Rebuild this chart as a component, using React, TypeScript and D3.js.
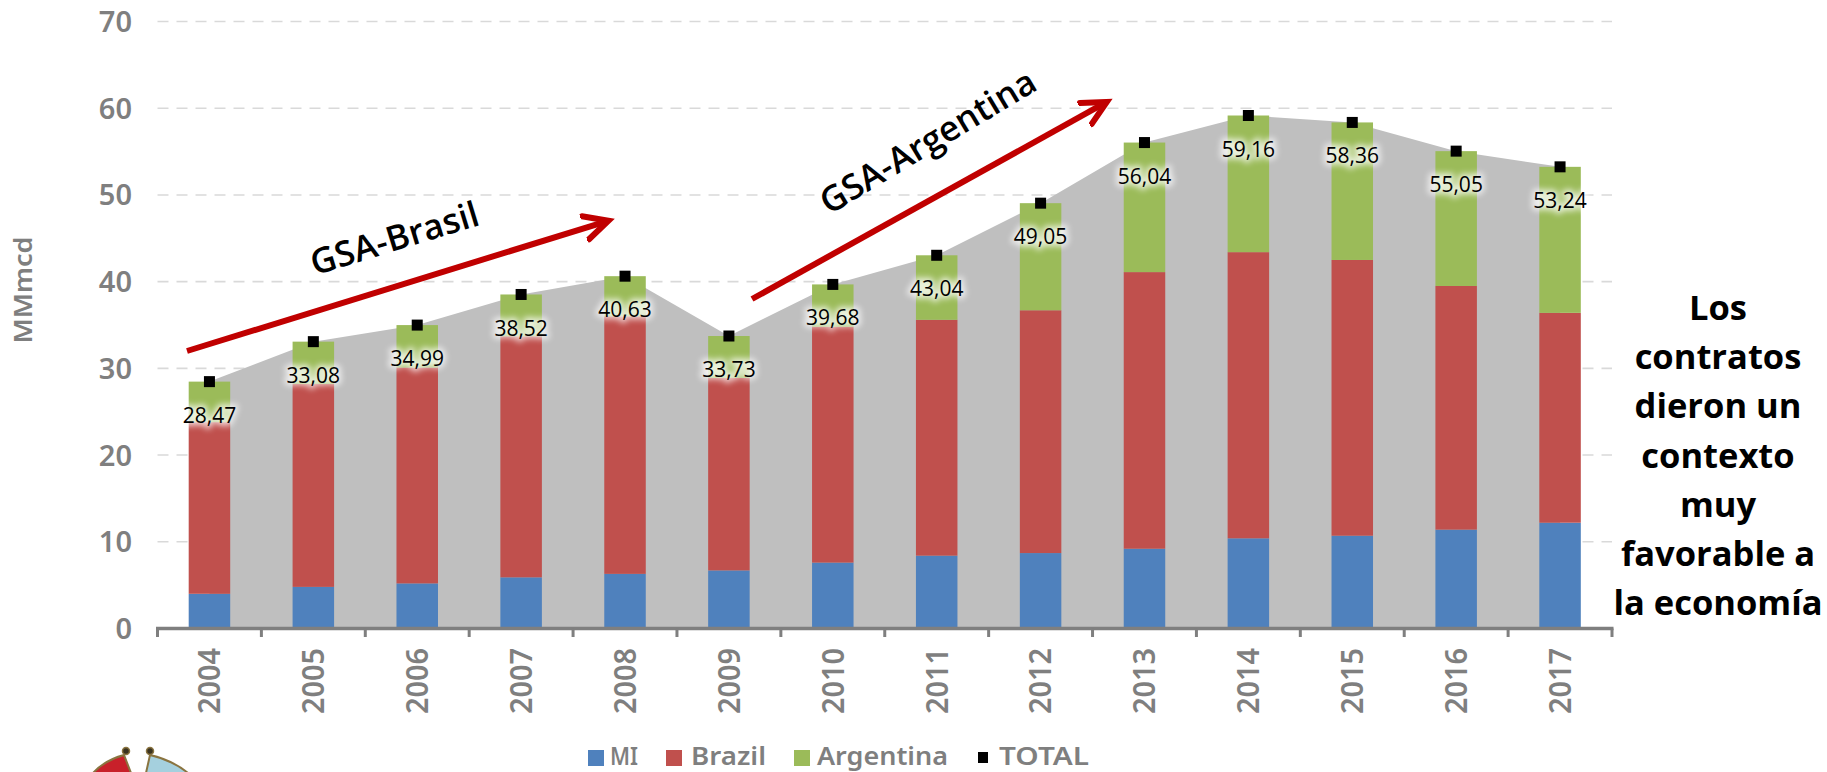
import React from "react";
import * as d3 from "d3";

const years = ["2004","2005","2006","2007","2008","2009","2010","2011","2012","2013","2014","2015","2016","2017"];
const mi = [4.0,4.8,5.2,5.9,6.3,6.7,7.6,8.4,8.7,9.2,10.4,10.7,11.4,12.2];
const brazil = [19.8,23.4,24.9,27.8,29.7,22.2,27.2,27.2,28.0,31.9,33.0,31.8,28.1,24.2];
const total = [28.47,33.08,34.99,38.52,40.63,33.73,39.68,43.04,49.05,56.04,59.16,58.36,55.05,53.24];
const yTicks = [0,10,20,30,40,50,60,70];
const legendItems = ["MI","Brazil","Argentina","TOTAL"];
const sideText = ["Los","contratos","dieron un","contexto","muy","favorable a","la economía"];

const BLUE = "#4F81BD", RED = "#C0504D", GREEN = "#9BBB59", GRAY = "#BFBFBF", AX = "#7F7F7F", ARROW = "#C00000";
const FONT = "'Noto Sans', sans-serif";
const LABEL = "'Open Sans', sans-serif";

export default function App() {
  const x = d3.scaleBand().domain(years).range([157.5, 1612]).paddingInner(0).paddingOuter(0);
  const y = d3.scaleLinear().domain([0, 70]).range([628.5, 21.5]);
  const cx = (d: string) => (x(d) as number) + x.bandwidth() / 2;
  const barW = 41.5;
  const area = d3.area<number>().x((_, i) => cx(years[i])).y0(y(0)).y1((d) => y(d));
  const stacks = years.map((_, i) => {
    const a = mi[i], b = a + brazil[i];
    return [
      { y0: 0, y1: a, c: BLUE },
      { y0: a, y1: b, c: RED },
      { y0: b, y1: total[i], c: GREEN },
    ];
  });
  const legendRectX = [588, 666, 794, 978];
  const legendTextX = [610, 691, 817, 999];
  const legendTextW = [28, 75, 131, 90];
  return (
    <svg width={1827} height={772} style={{ position: "absolute", left: 0, top: 0, background: "#fff" }}>
      <defs>
        <filter id="glow" x="-30%" y="-80%" width="160%" height="260%">
          <feGaussianBlur stdDeviation="3.2" />
        </filter>
        <marker id="head" markerUnits="userSpaceOnUse" markerWidth="40" markerHeight="36" refX="24" refY="18" orient="auto">
          <path d="M2,6 L26,18 L2,30" fill="none" stroke={ARROW} strokeWidth="6" strokeLinecap="round" strokeLinejoin="miter" strokeMiterlimit="10" />
        </marker>
      </defs>
      {yTicks.filter((t) => t > 0).map((t) => (
        <line key={t} x1={157.5} x2={1612} y1={y(t)} y2={y(t)} stroke="#D9D9D9" strokeWidth={1.6} strokeDasharray="11 8" />
      ))}
      <path d={area(total) as string} fill={GRAY} />
      {stacks.map((s, i) => s.map((r, j) => (
        <rect key={`${i}-${j}`} x={cx(years[i]) - barW / 2} width={barW} y={y(r.y1)} height={y(r.y0) - y(r.y1)} fill={r.c} />
      )))}
      <line x1={156} x2={1613.5} y1={y(0)} y2={y(0)} stroke={AX} strokeWidth={3.4} />
      {d3.range(15).map((i) => {
        const tx = 157.5 + i * x.bandwidth();
        return <line key={i} x1={tx} x2={tx} y1={y(0)} y2={637} stroke={AX} strokeWidth={3} />;
      })}
      {yTicks.map((t) => (
        <text key={t} x={132} y={y(t)} dy="0.36em" textAnchor="end" fontFamily={FONT} fontWeight="600" fontSize={29} fill={AX}>{t}</text>
      ))}
      {years.map((d) => (
        <text key={d} transform={`translate(${cx(d)},714) rotate(-90)`} dy="0.36em" textAnchor="start" fontFamily={FONT} fontWeight="600" fontSize={30} fill={AX} textLength={66} lengthAdjust="spacingAndGlyphs">{d}</text>
      ))}
      <text transform="translate(23,290) rotate(-90)" textAnchor="middle" dy="0.36em" fontFamily={FONT} fontWeight="600" fontSize={25} fill={AX} textLength={107} lengthAdjust="spacingAndGlyphs">MMmcd</text>
      {years.map((d, i) => {
        const lab = d3.format(".2f")(total[i]).replace(".", ",");
        return (
          <g key={d}>
            <text x={cx(d)} y={y(total[i]) + 33.5} dy="0.36em" textAnchor="middle" fontFamily={LABEL} fontSize={21} stroke="#fff" strokeWidth={5} fill="#fff" opacity={0.8} filter="url(#glow)">{lab}</text>
            <text x={cx(d)} y={y(total[i]) + 33.5} dy="0.36em" textAnchor="middle" fontFamily={LABEL} fontSize={21} fill="#000">{lab}</text>
            <rect x={cx(d) - 5.5} y={y(total[i]) - 5.5} width={11} height={11} fill="#000" />
          </g>
        );
      })}
      <line x1={187} y1={351} x2={606.5} y2={221.3} stroke={ARROW} strokeWidth={6} markerEnd="url(#head)" />
      <line x1={752} y1={299} x2={1105} y2={102.9} stroke={ARROW} strokeWidth={6} markerEnd="url(#head)" />
      <text transform="translate(398,250) rotate(-17)" textAnchor="middle" fontFamily={LABEL} fontWeight="600" fontSize={35} fill="#000">GSA-Brasil</text>
      <text transform="translate(934,152) rotate(-31)" textAnchor="middle" fontFamily={LABEL} fontWeight="600" fontSize={35} fill="#000">GSA-Argentina</text>
      {sideText.map((t, i) => (
        <text key={t} x={1718} y={320 + i * 49.2} textAnchor="middle" fontFamily={LABEL} fontWeight="700" fontSize={34.5} fill="#000">{t}</text>
      ))}
      {legendItems.map((t, i) => (
        <g key={t}>
          <rect x={legendRectX[i]} y={i === 3 ? 752 : 750} width={i === 3 ? 10 : 16} height={i === 3 ? 11 : 16} fill={[BLUE, RED, GREEN, "#000"][i]} />
          <text x={legendTextX[i]} y={764.5} fontFamily={FONT} fontWeight="600" fontSize={25} fill={AX} textLength={legendTextW[i]} lengthAdjust="spacingAndGlyphs">{t}</text>
        </g>
      ))}
      {/* emblem cut off by the bottom of the page */}
      <path d="M93,773 Q105,760 124,755 L131,773 Z" fill="#C8202A" stroke="#8A7440" strokeWidth={2} />
      <path d="M146,773 L150,755 Q172,760 188,773 Z" fill="#A5D0DE" stroke="#8A7440" strokeWidth={2} />
      <circle cx={126} cy={751} r={3.5} fill="#3A3320" stroke="#8A7440" strokeWidth={1.5} />
      <circle cx={150} cy={751} r={3.5} fill="#3A3320" stroke="#8A7440" strokeWidth={1.5} />
    </svg>
  );
}
